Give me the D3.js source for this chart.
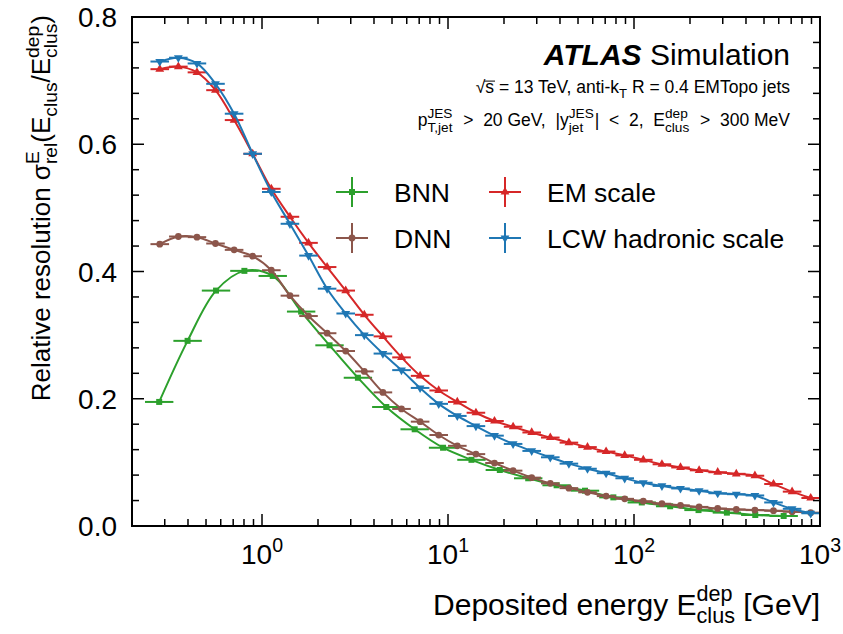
<!DOCTYPE html>
<html>
<head>
<meta charset="utf-8">
<script src="https://cdn.jsdelivr.net/npm/d3@7"></script>
<style>
  body { margin: 0; background: #fff; }
  text { font-family: "Liberation Sans", Arial, Helvetica, sans-serif; white-space: pre; }
</style>
</head>
<body>
<script>
const W = 843, H = 634
const margin = {top: 17, right: 23, bottom: 108, left: 132}

// bin centres (GeV)
const fineE = [0.282, 0.355, 0.447, 0.562, 0.708, 0.891, 1.122, 1.413, 1.778, 2.239, 2.818, 3.548,
  4.467, 5.623, 7.079, 8.913, 11.22, 14.13, 17.78, 22.39, 28.18, 35.48, 44.67, 56.23,
  70.79, 89.13, 112.2, 141.3, 177.8, 223.9, 281.8, 354.8, 446.7, 562.3, 707.9, 891.3]
const bnnE = [0.280, 0.398, 0.566, 0.804, 1.142, 1.623, 2.307, 3.278, 4.658, 6.620, 9.406, 13.37,
  18.99, 26.99, 38.36, 54.51, 77.45, 110.1, 156.4, 222.3, 315.8, 448.7, 637.8]

// relative resolution values
const bnnRes = [0.195, 0.291, 0.370, 0.401, 0.393, 0.337, 0.284, 0.233, 0.187, 0.152, 0.123, 0.104,
  0.088, 0.075, 0.064, 0.0555, 0.045, 0.037, 0.031, 0.025, 0.021, 0.0173, 0.0157]
const dnnRes = [0.443, 0.455, 0.454, 0.444, 0.434, 0.424, 0.402, 0.362, 0.330, 0.303, 0.275, 0.243,
  0.210, 0.184, 0.164, 0.143, 0.126, 0.113, 0.099, 0.087, 0.076, 0.067, 0.0595, 0.053,
  0.047, 0.0427, 0.039, 0.035, 0.0325, 0.030, 0.0275, 0.026, 0.025, 0.024, 0.0225, 0.021]
const emRes = [0.718, 0.722, 0.713, 0.685, 0.638, 0.585, 0.530, 0.486, 0.445, 0.407, 0.370, 0.332,
  0.298, 0.265, 0.236, 0.213, 0.195, 0.178, 0.165, 0.156, 0.147, 0.139, 0.131, 0.124,
  0.117, 0.111, 0.104, 0.097, 0.092, 0.0875, 0.0845, 0.082, 0.079, 0.066, 0.054, 0.044]
const lcwRes = [0.730, 0.736, 0.727, 0.695, 0.648, 0.585, 0.525, 0.475, 0.425, 0.373, 0.334, 0.300,
  0.271, 0.245, 0.217, 0.192, 0.173, 0.157, 0.142, 0.129, 0.118, 0.108, 0.098, 0.090,
  0.083, 0.075, 0.068, 0.063, 0.059, 0.0555, 0.0515, 0.050, 0.048, 0.037, 0.027, 0.020]

const series = [
  {name: 'BNN', e: bnnE, v: bnnRes, color: '#2ca02c', sym: 'square'},
  {name: 'DNN', e: fineE, v: dnnRes, color: '#8c564b', sym: 'circle'},
  {name: 'EM scale', e: fineE, v: emRes, color: '#d62728', sym: 'up'},
  {name: 'LCW hadronic scale', e: fineE, v: lcwRes, color: '#1f77b4', sym: 'down'}
]

const svg = d3.select('body').append('svg')
    .attr('width', W)
    .attr('height', H)

const x = d3.scaleLog().domain([0.2, 1000]).range([margin.left, W - margin.right])
const y = d3.scaleLinear().domain([0, 0.8]).range([H - margin.bottom, margin.top])

// draw text with sub/superscripts, returns group
function rich(parent, parts, size, anchor, opt) {
  opt = Object.assign({ratio: 0.7, sup: 0.42, sub: 0.26, gap: 0}, opt || {})
  const outer = parent.append('g')
  const g = outer.append('g')
  let cx = 0
  parts.forEach(p => {
    if (typeof p === 'string') {
      const t = g.append('text').attr('x', cx).attr('font-size', size).text(p)
      cx += t.node().getComputedTextLength()
    } else if (p.over) {
      const t = g.append('text').attr('x', cx).attr('font-size', size).text(p.over)
      const w = t.node().getComputedTextLength()
      g.append('line').attr('x1', cx - 1).attr('x2', cx + w + 1)
        .attr('y1', -size * 0.68).attr('y2', -size * 0.68)
        .attr('stroke', '#000').attr('stroke-width', 1)
      cx += w
    } else {
      let w = 0
      if (p.sup) {
        const t = g.append('text').attr('x', cx).attr('y', -size * opt.sup)
          .attr('font-size', size * opt.ratio).text(p.sup)
        w = Math.max(w, t.node().getComputedTextLength())
      }
      if (p.sub) {
        const t = g.append('text').attr('x', cx).attr('y', size * opt.sub)
          .attr('font-size', size * opt.ratio).text(p.sub)
        w = Math.max(w, t.node().getComputedTextLength())
      }
      cx += w + opt.gap
    }
  })
  if (anchor === 'end') g.attr('transform', `translate(${-cx},0)`)
  if (anchor === 'middle') g.attr('transform', `translate(${-cx / 2},0)`)
  return outer
}

// curves, error bars, markers
function symbolPath(s) {
  if (s === 'square') return d3.symbol(d3.symbolSquare, 36)()
  if (s === 'circle') return d3.symbol(d3.symbolCircle, 36)()
  return d3.symbol(d3.symbolTriangle, 34)()
}

const line = d3.line()
    .x(d => x(d[0]))
    .y(d => y(d[1]))
    .curve(d3.curveCatmullRom)

series.forEach(s => {
  const pts = s.e.map((e, i) => [e, s.v[i]])
  // bin edges from neighbouring centres
  const edges = []
  for (let i = 0; i < s.e.length - 1; i++) edges.push(Math.sqrt(s.e[i] * s.e[i + 1]))
  const lo = [s.e[0] * s.e[0] / edges[0]].concat(edges)
  const hi = edges.concat([s.e[s.e.length - 1] ** 2 / edges[edges.length - 1]])

  const g = svg.append('g')
  g.append('path')
      .datum(pts)
      .attr('d', line)
      .attr('fill', 'none')
      .attr('stroke', s.color)
      .attr('stroke-width', 2)

  g.selectAll('.xerr').data(pts)
    .enter()
    .append('line')
      .attr('x1', (d, i) => x(lo[i]))
      .attr('x2', (d, i) => Math.min(x(hi[i]), W - margin.right))
      .attr('y1', d => y(d[1]))
      .attr('y2', d => y(d[1]))
      .attr('stroke', s.color)
      .attr('stroke-width', 2)

  g.selectAll('.mk').data(pts)
    .enter()
    .append('path')
      .attr('d', symbolPath(s.sym))
      .attr('transform', d => `translate(${x(d[0])},${y(d[1])})` + (s.sym === 'down' ? 'rotate(180)' : ''))
      .attr('fill', s.color)
})

// frame and ticks (inward, all four sides)
const pL = margin.left, pR = W - margin.right, pT = margin.top, pB = H - margin.bottom
const axes = svg.append('g').attr('stroke', '#000')

x.ticks().forEach(t => {
  const major = Math.abs(Math.log10(t) - Math.round(Math.log10(t))) < 1e-6
  const len = major ? 12 : 7
  const px = x(t)
  axes.append('line').attr('x1', px).attr('x2', px).attr('y1', pB).attr('y2', pB - len).attr('stroke-width', 1.5)
  axes.append('line').attr('x1', px).attr('x2', px).attr('y1', pT).attr('y2', pT + len).attr('stroke-width', 1.5)
})
d3.range(0, 0.8001, 0.04).forEach((t, i) => {
  const len = i % 5 === 0 ? 12 : 7
  const py = y(t)
  axes.append('line').attr('x1', pL).attr('x2', pL + len).attr('y1', py).attr('y2', py).attr('stroke-width', 1.5)
  axes.append('line').attr('x1', pR).attr('x2', pR - len).attr('y1', py).attr('y2', py).attr('stroke-width', 1.5)
})
svg.append('rect')
    .attr('x', pL).attr('y', pT)
    .attr('width', pR - pL).attr('height', pB - pT)
    .attr('fill', 'none').attr('stroke', '#000').attr('stroke-width', 2)

// tick labels
const fs = 28
d3.range(0, 0.8001, 0.2).forEach(t => {
  svg.append('text')
      .attr('x', 117)
      .attr('y', y(t) + 10)
      .attr('text-anchor', 'end')
      .attr('font-size', fs)
      .text(t.toFixed(1))
})
const decades = [1, 10, 100, 1000]
decades.forEach((d, i) => {
  const g = rich(svg, ['10', {sup: String(i)}], fs, 'middle')
  g.attr('transform', `translate(${x(d)},564)`)
})

// axis titles
rich(svg, ['Deposited energy E', {sup: 'dep', sub: 'clus'}, ' [GeV]'], 30, 'end', {ratio: 0.72, sup: 0.46})
    .attr('transform', `translate(${pR},615)`)
rich(svg, ['Relative resolution σ', {sup: 'E', sub: 'rel'}, '(E', {sub: 'clus'}, '/E', {sup: 'dep', sub: 'clus'}, ')'], 26, 'end', {ratio: 0.74})
    .attr('transform', 'translate(50,15)rotate(-90)')

// ATLAS label
const atl = svg.append('text')
    .attr('x', 790)
    .attr('y', 65)
    .attr('text-anchor', 'end')
    .attr('font-size', 30)
atl.append('tspan').attr('font-weight', 'bold').attr('font-style', 'italic').text('ATLAS')
atl.append('tspan').text(' Simulation')

rich(svg, ['√', {over: 's'}, ' = 13 TeV, anti-k', {sub: 'T'}, ' R = 0.4 EMTopo jets'], 17.5, 'end', {ratio: 0.75})
    .attr('transform', 'translate(790,93)')
rich(svg, ['p', {sup: 'JES', sub: 'T,jet'}, '  >  20 GeV,  |y', {sup: 'JES', sub: 'jet'}, '|  <  2,  E', {sup: 'dep', sub: 'clus'}, '  >  300 MeV'], 17.5, 'end', {ratio: 0.78, sup: 0.48, sub: 0.32, gap: 1})
    .attr('transform', 'translate(790,126)')

// legend (two columns)
const legPos = [[352, 192], [352, 238], [505, 192], [505, 238]]
series.forEach((s, i) => {
  const [lx, ly] = legPos[i]
  const g = svg.append('g').attr('transform', `translate(${lx},${ly})`)
  g.append('line').attr('x1', -16).attr('x2', 16).attr('y1', 0).attr('y2', 0).attr('stroke', s.color).attr('stroke-width', 2)
  g.append('line').attr('x1', 0).attr('x2', 0).attr('y1', -15).attr('y2', 15).attr('stroke', s.color).attr('stroke-width', 2)
  g.append('path').attr('d', symbolPath(s.sym)).attr('fill', s.color)
    .attr('transform', s.sym === 'down' ? 'rotate(180)' : null)
  svg.append('text')
      .attr('x', lx + 42)
      .attr('y', ly + 10)
      .attr('font-size', 26.5)
      .text(s.name)
})
</script>
</body>
</html>
